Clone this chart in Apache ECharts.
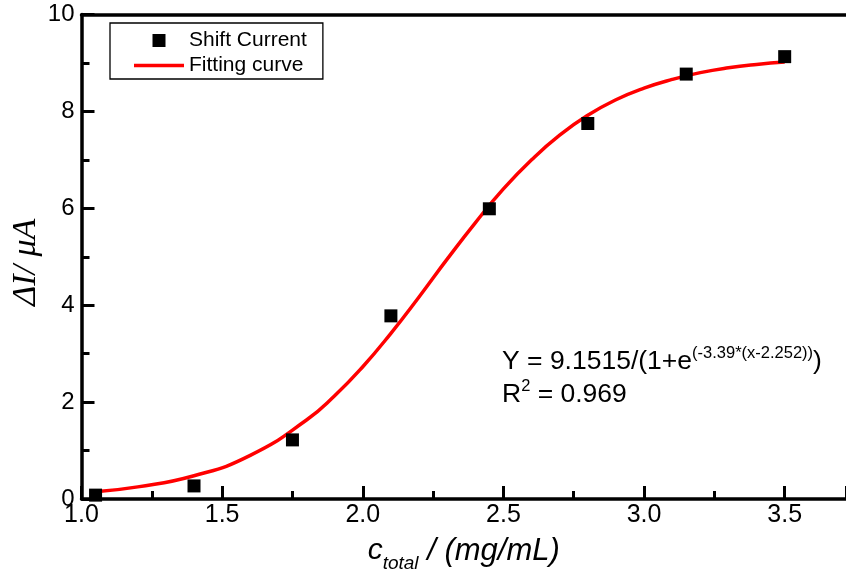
<!DOCTYPE html>
<html>
<head>
<meta charset="utf-8">
<script src="https://cdn.jsdelivr.net/npm/echarts@6/dist/echarts.min.js"></script>
<style>html,body{margin:0;padding:0;background:#fff;}#c{width:846px;height:583px;}</style>
</head>
<body>
<div id="c"></div>
<script>
// Measured points
const concX = [1.05, 1.40, 1.75, 2.10, 2.45, 2.80, 3.15, 3.50];
const shiftCurrent = [0.08, 0.27, 1.22, 3.78, 5.99, 7.75, 8.77, 9.13];
// Fitting curve
const fitX = [1.05, 1.2, 1.4, 1.6, 1.8, 1.9, 2.0, 2.1, 2.2, 2.3, 2.4, 2.5, 2.6, 2.7, 2.8, 2.9, 3.0, 3.1, 3.2, 3.3, 3.4, 3.5];
const fitY = [0.15, 0.25, 0.48, 0.90, 1.63, 2.13, 2.73, 3.42, 4.17, 4.95, 5.70, 6.40, 7.00, 7.51, 7.92, 8.24, 8.48, 8.66, 8.80, 8.90, 8.97, 9.02];
const xTicks = ['1.0', '1.5', '2.0', '2.5', '3.0', '3.5'];
const yTicks = ['0', '2', '4', '6', '8', '10'];

const chart = echarts.init(document.getElementById('c'));
const font = 'Liberation Sans, Arial, sans-serif';
const axisLineStyle = {color: '#000', width: 3.5};
const axisCommon = {
  axisLine: {show: true, onZero: false, lineStyle: axisLineStyle},
  axisTick: {show: true, inside: true, length: 13, lineStyle: {color: '#000', width: 3}},
  minorTick: {show: true, splitNumber: 2, length: 8, lineStyle: {color: '#000', width: 3}},
  splitLine: {show: false},
  minorSplitLine: {show: false}
};
chart.setOption({
  animation: false,
  backgroundColor: '#fff',
  grid: {left: 81.5, right: 0, top: 14.5, bottom: 84, containLabel: false, outerBoundsMode: 'none'},
  legend: {
    left: 110, top: 23, orient: 'vertical',
    borderColor: '#000', borderWidth: 1.3,
    padding: [7, 16, 3, 24],
    itemWidth: 50, itemHeight: 13, itemGap: 4,
    textStyle: {fontFamily: font, fontSize: 21, color: '#000'},
    data: [
      {name: 'Shift Current', icon: 'path://M0,0M50,13M18.5,0h13v13h-13z'},
      {name: 'Fitting curve', icon: 'path://M0,0M50,13M0,4.75h50v3.5h-50z'}
    ]
  },
  xAxis: [{
    type: 'value', min: 1, max: 3.718, interval: 0.5, position: 'bottom',
    ...axisCommon,
    axisLabel: {color: '#000', fontFamily: font, fontSize: 25, margin: 4, showMaxLabel: false, showMinLabel: true,
      formatter: v => { const i = Math.round((v - 1) / 0.5); return xTicks[i] || ''; }},
    name: '{c|c}{s|total}{t| / (mg/mL)}',
    nameLocation: 'middle', nameGap: 30, nameMoveOverlap: false,
    nameTextStyle: {
      rich: {
        c: {fontFamily: font, fontStyle: 'italic', fontSize: 30, color: '#000', lineHeight: 44, verticalAlign: 'middle'},
        s: {fontFamily: font, fontStyle: 'italic', fontSize: 19, color: '#000', lineHeight: 20, verticalAlign: 'bottom'},
        t: {fontFamily: font, fontStyle: 'italic', fontSize: 31, color: '#000', lineHeight: 44, verticalAlign: 'middle'}
      }
    }
  }, {
    type: 'value', min: 1, max: 3.718, position: 'top',
    axisLine: {show: true, onZero: false, lineStyle: axisLineStyle},
    axisTick: {show: false}, axisLabel: {show: false}, splitLine: {show: false}
  }],
  yAxis: {
    type: 'value', min: 0, max: 10, interval: 2,
    ...axisCommon,
    axisLabel: {color: '#000', fontFamily: font, fontSize: 24, margin: 7,
      formatter: v => yTicks[Math.round(v / 2)]},
    name: 'ΔI/ μA', nameLocation: 'middle', nameGap: 38, nameRotate: 90, nameMoveOverlap: false,
    nameTextStyle: {fontFamily: 'Liberation Serif, Times New Roman, serif', fontStyle: 'italic', fontSize: 34, color: '#000', padding: [0, 11, 0, 0]}
  },
  series: [{
    name: 'Fitting curve', type: 'line', smooth: true, symbol: 'none', showSymbol: false,
    z: 2,
    lineStyle: {color: '#ff0000', width: 3.5},
    itemStyle: {color: '#ff0000'},
    data: fitX.map((x, i) => [x, fitY[i]])
  }, {
    name: 'Shift Current', type: 'scatter', symbol: 'rect', symbolSize: 13,
    z: 3,
    itemStyle: {color: '#000', opacity: 1},
    data: concX.map((x, i) => [x, shiftCurrent[i]])
  }],
  graphic: [{
    type: 'text', left: 502, top: 345,
    style: {
      text: '{a|Y = 9.1515/(1+e}{b|(-3.39*(x-2.252))}{a|)}\n{a|R}{b|2}{a| = 0.969}',
      rich: {
        a: {fontFamily: font, fontSize: 26.5, fill: '#000', lineHeight: 33, verticalAlign: 'middle'},
        b: {fontFamily: font, fontSize: 16.5, fill: '#000', lineHeight: 13, verticalAlign: 'top'}
      }
    }
  }]
});
</script>
</body>
</html>
